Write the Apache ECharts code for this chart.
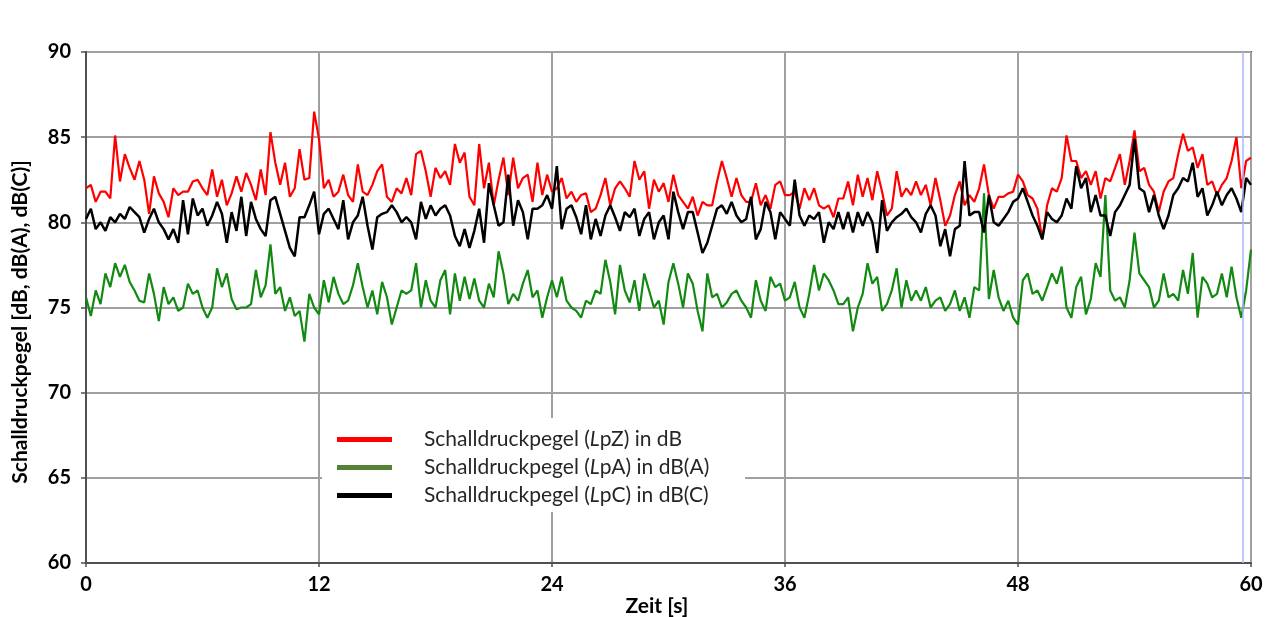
<!DOCTYPE html>
<html>
<head>
<meta charset="utf-8">
<title>Schalldruckpegel</title>
<script src="https://cdn.jsdelivr.net/npm/echarts@6/dist/echarts.min.js"></script>
<style>
  html, body { margin: 0; padding: 0; background: #ffffff; }
  #chart { width: 1272px; height: 617px; }
</style>
</head>
<body>
<div id="chart"></div>
<script>
// Sampling interval of the level recordings, in seconds
const TIME_STEP_S = 0.25;

// Cursor position marked in the recording (s)
const CURSOR_T = 59.6;

// Schalldruckpegel LpZ in dB (unweighted)
const lpZ = [
  82.0, 82.2, 81.2, 81.8, 81.8, 81.4, 85.1, 82.4, 84.0, 83.2,
  82.5, 83.6, 82.5, 80.5, 82.7, 81.7, 81.2, 80.3, 82.0, 81.6,
  81.8, 81.8, 82.4, 82.5, 82.0, 81.6, 83.1, 81.5, 82.5, 81.0,
  81.7, 82.7, 81.8, 82.9, 82.2, 81.3, 83.1, 81.6, 85.3, 83.5,
  82.2, 83.5, 81.5, 82.0, 84.3, 82.5, 82.6, 86.5, 84.9, 82.0,
  82.5, 81.5, 81.8, 82.8, 81.6, 81.2, 83.4, 81.8, 81.6, 82.2,
  83.0, 83.4, 81.5, 81.2, 82.0, 81.7, 82.6, 81.6, 84.0, 84.2,
  83.0, 81.5, 83.2, 82.6, 83.0, 82.2, 84.6, 83.5, 84.1, 81.5,
  81.0, 84.6, 82.0, 83.5, 81.0, 82.5, 83.8, 81.6, 83.8, 82.0,
  82.6, 82.8, 81.2, 83.5, 81.6, 82.8, 81.8, 82.0, 82.6, 81.4,
  81.8, 81.2, 81.6, 81.7, 80.6, 80.8, 81.6, 82.6, 81.0, 82.0,
  82.4, 82.0, 81.5, 83.6, 82.5, 83.0, 80.8, 82.5, 81.8, 82.3,
  81.2, 82.8, 81.6, 81.2, 80.8, 81.5, 80.4, 81.2, 81.0, 81.0,
  82.4, 83.6, 82.6, 81.5, 82.6, 81.6, 81.2, 81.2, 82.3, 81.0,
  81.6, 80.8, 82.2, 82.4, 81.6, 81.6, 81.8, 80.8, 82.0, 81.3,
  82.0, 81.0, 80.8, 81.0, 80.3, 81.4, 81.4, 82.4, 81.0, 82.8,
  81.5, 82.6, 81.3, 83.0, 81.8, 80.4, 80.8, 83.0, 81.5, 82.0,
  81.6, 82.4, 81.6, 82.2, 81.0, 82.6, 81.3, 79.8, 80.4, 81.6,
  82.4, 81.0, 81.6, 81.2, 82.0, 83.4, 81.6, 80.8, 81.5, 81.5,
  81.7, 81.8, 82.8, 82.4, 81.6, 81.4, 80.8, 79.0, 81.0, 82.0,
  81.8, 82.6, 85.1, 83.6, 83.6, 82.6, 83.0, 82.2, 83.0, 81.4,
  82.6, 82.4, 83.2, 84.0, 82.2, 83.6, 85.4, 83.0, 83.2, 82.2,
  81.8, 80.6, 81.8, 82.4, 82.6, 84.0, 85.2, 84.2, 84.4, 83.2,
  84.0, 82.2, 82.4, 81.6, 82.2, 82.6, 83.6, 85.0, 82.0, 83.6,
  83.8
];

// Schalldruckpegel LpA in dB(A)
const lpA = [
  75.6, 74.5, 76.0, 75.2, 77.0, 76.2, 77.6, 76.8, 77.5, 76.5,
  76.0, 75.4, 75.3, 77.0, 75.8, 74.2, 76.2, 75.2, 75.6, 74.8,
  75.0, 76.4, 75.8, 76.0, 75.0, 74.4, 75.0, 77.3, 76.2, 77.0,
  75.5, 74.9, 75.0, 75.0, 75.2, 77.2, 75.6, 76.3, 78.7, 75.8,
  76.2, 74.8, 75.6, 74.5, 74.8, 73.0, 75.8, 75.0, 74.6, 76.6,
  75.3, 76.8, 75.8, 75.2, 75.4, 76.3, 77.6, 76.2, 75.0, 76.0,
  74.6, 76.5, 75.6, 74.0, 75.0, 76.0, 75.8, 76.0, 77.6, 75.0,
  76.6, 75.4, 75.0, 76.6, 77.2, 74.6, 77.0, 75.4, 76.8, 75.5,
  76.7, 75.4, 75.0, 76.4, 75.6, 78.3, 77.0, 75.2, 75.8, 75.4,
  76.4, 77.2, 75.6, 76.0, 74.4, 75.6, 76.6, 75.6, 76.8, 75.4,
  75.0, 74.8, 74.4, 75.4, 75.2, 76.0, 75.8, 77.8, 76.5, 74.6,
  77.5, 76.0, 75.3, 76.6, 74.8, 77.0, 76.0, 75.0, 75.4, 74.0,
  76.5, 77.6, 76.4, 75.0, 77.0, 76.4, 74.8, 73.6, 77.0, 75.6,
  75.8, 75.0, 75.3, 75.8, 76.0, 75.4, 75.0, 74.4, 76.6, 75.4,
  74.8, 76.8, 76.2, 76.4, 75.4, 75.6, 76.5, 75.0, 74.4, 75.8,
  77.5, 76.0, 77.0, 76.6, 76.0, 75.2, 75.2, 75.6, 73.6, 75.0,
  75.8, 77.6, 76.4, 76.8, 74.8, 75.2, 76.0, 77.3, 75.0, 76.6,
  75.4, 76.0, 75.4, 76.2, 75.0, 75.4, 75.6, 74.8, 75.2, 76.0,
  74.8, 75.6, 74.4, 76.2, 76.0, 81.7, 75.5, 77.2, 75.6, 74.8,
  75.4, 74.4, 74.0, 76.6, 77.0, 75.8, 76.0, 75.4, 76.2, 77.0,
  76.4, 77.4, 75.0, 74.4, 76.2, 76.8, 74.6, 75.5, 77.6, 76.8,
  81.6, 76.0, 75.4, 75.6, 75.0, 76.6, 79.4, 77.0, 76.6, 76.2,
  75.0, 75.4, 77.0, 75.6, 75.8, 75.4, 77.2, 75.8, 78.2, 74.4,
  76.8, 76.4, 75.6, 75.8, 77.0, 75.6, 77.4, 75.6, 74.4, 76.0,
  78.4
];

// Schalldruckpegel LpC in dB(C)
const lpC = [
  80.2, 80.8, 79.6, 80.0, 79.5, 80.3, 80.0, 80.5, 80.2, 80.9,
  80.6, 80.3, 79.4, 80.2, 80.8, 80.0, 79.6, 79.0, 79.6, 78.8,
  81.3, 79.3, 81.4, 80.4, 80.8, 79.8, 80.4, 81.2, 80.5, 78.8,
  80.6, 79.5, 81.5, 79.2, 81.2, 80.2, 79.6, 79.2, 81.3, 81.5,
  80.5, 79.5, 78.5, 78.0, 80.3, 80.3, 81.0, 81.8, 79.3, 80.5,
  80.8, 80.2, 79.6, 81.3, 79.0, 80.0, 80.4, 81.5, 79.8, 78.4,
  80.3, 80.5, 80.6, 81.0, 80.6, 80.0, 80.3, 80.0, 79.0, 81.2,
  80.2, 81.0, 80.4, 80.8, 81.0, 80.4, 79.2, 78.6, 79.6, 78.5,
  79.5, 80.8, 78.8, 82.3, 81.0, 79.8, 80.0, 82.8, 79.8, 81.3,
  80.6, 79.0, 80.8, 80.8, 81.0, 81.6, 80.8, 83.3, 79.6, 80.8,
  81.0, 80.3, 79.3, 81.0, 79.0, 80.2, 79.2, 80.4, 81.0, 80.3,
  79.5, 80.6, 80.3, 80.8, 79.2, 80.2, 80.6, 79.0, 80.0, 80.4,
  79.0, 81.8, 80.6, 79.6, 80.6, 80.6, 79.4, 78.2, 78.8, 79.8,
  80.8, 81.0, 80.5, 81.2, 80.4, 80.0, 80.2, 81.5, 79.0, 79.6,
  81.2, 80.6, 79.0, 80.6, 80.2, 79.8, 82.5, 80.4, 79.8, 80.4,
  80.2, 80.6, 78.8, 80.0, 79.6, 80.6, 79.6, 80.6, 79.4, 80.6,
  79.8, 80.6, 80.0, 78.2, 81.3, 79.5, 80.0, 80.3, 80.5, 80.8,
  80.3, 80.0, 79.4, 80.5, 81.0, 80.4, 78.6, 79.6, 78.0, 79.6,
  79.8, 83.6, 80.4, 80.6, 80.6, 79.4, 81.6, 80.0, 79.8, 80.2,
  80.6, 81.2, 81.4, 82.0, 81.2, 80.4, 79.8, 79.0, 80.6, 80.2,
  80.0, 80.4, 81.4, 80.8, 83.3, 82.0, 82.6, 80.6, 81.6, 80.4,
  80.4, 79.2, 80.6, 81.0, 81.6, 82.2, 84.9, 82.0, 81.8, 80.6,
  81.6, 80.4, 79.6, 80.4, 81.6, 82.0, 82.6, 82.4, 83.5, 81.5,
  82.0, 80.4, 81.0, 81.8, 81.0, 81.6, 82.0, 81.4, 80.6, 82.6,
  82.2
];

const seriesNames = [
  'Schalldruckpegel (LpZ) in dB',
  'Schalldruckpegel (LpA) in dB(A)',
  'Schalldruckpegel (LpC) in dB(C)'
];
const lineColors = ['#ff0000', '#128a12', '#000000'];
const legendColors = ['#ff0000', '#548235', '#000000'];

const yAxisTitle = 'Schalldruckpegel [dB, dB(A), dB(C)]';
const xAxisTitle = 'Zeit [s]';

const FONT = 'Lato, "Open Sans", "Liberation Sans", sans-serif';

function toPairs(values) {
  return values.map((v, i) => [i * TIME_STEP_S, v]);
}

// Put the "L" of the level symbol in italics
function legendLabel(name) {
  const k = name.indexOf('(L');
  return '{n|' + name.slice(0, k + 1) + '}{i|L}{n|' + name.slice(k + 2) + '}';
}

const chart = echarts.init(document.getElementById('chart'), null, { renderer: 'canvas' });

chart.setOption({
  animation: false,
  backgroundColor: '#ffffff',
  grid: {
    left: 86, right: 21, top: 52, bottom: 54,
    containLabel: false,
    outerBoundsMode: 'none',
    show: true, borderColor: '#505050', borderWidth: 2, backgroundColor: 'transparent'
  },
  xAxis: {
    type: 'value', min: 0, max: 60, interval: 12,
    axisLine: { show: true, onZero: false, lineStyle: { color: '#505050', width: 2 } },
    axisTick: { show: true, length: 4, lineStyle: { color: '#505050', width: 1.5 } },
    axisLabel: { fontFamily: FONT, fontWeight: 'bold', fontSize: 20, color: '#000', margin: 12 },
    splitLine: { show: true, lineStyle: { color: '#a0a0a0', width: 2 } }
  },
  yAxis: {
    type: 'value', min: 60, max: 90, interval: 5,
    axisLine: { show: true, lineStyle: { color: '#505050', width: 2 } },
    axisTick: { show: true, length: 5, lineStyle: { color: '#505050', width: 1.5 } },
    axisLabel: { fontFamily: FONT, fontWeight: 'bold', fontSize: 20, color: '#000', margin: 15 },
    splitLine: { show: true, lineStyle: { color: '#a0a0a0', width: 2 } }
  },
  legend: {
    orient: 'vertical',
    left: 337, top: 429,
    padding: 0,
    itemWidth: 55, itemHeight: 5, itemGap: 7,
    icon: 'rect',
    selectedMode: false,
    z: 5,
    data: seriesNames.map((n, i) => ({ name: n, itemStyle: { color: legendColors[i] } })),
    formatter: legendLabel,
    textStyle: {
      fontFamily: FONT, fontSize: 21, color: '#262626',
      padding: [0, 0, 0, 27],
      rich: {
        n: { fontFamily: FONT, fontSize: 21, color: '#262626' },
        i: { fontFamily: FONT, fontSize: 21, fontStyle: 'italic', color: '#262626' }
      }
    }
  },
  graphic: {
    elements: [
      {
        type: 'rect', z: 3, silent: true,
        shape: { x: 322, y: 418, width: 423, height: 94 },
        style: { fill: '#ffffff' }
      },
      {
        // y-axis title, reading bottom to top
        type: 'text', z: 3, silent: true,
        x: 20, y: 322, rotation: Math.PI / 2,
        style: {
          text: yAxisTitle, fill: '#000',
          font: 'bold 21px ' + FONT,
          align: 'center', verticalAlign: 'middle'
        }
      },
      {
        // x-axis title
        type: 'text', z: 3, silent: true,
        x: 657, y: 606,
        style: {
          text: xAxisTitle, fill: '#000',
          font: 'bold 21px ' + FONT,
          align: 'center', verticalAlign: 'middle'
        }
      }
    ]
  },
  series: [
    {
      name: seriesNames[0], type: 'line', data: toPairs(lpZ),
      showSymbol: false, symbol: 'none',
      lineStyle: { color: lineColors[0], width: 2.2 },
      itemStyle: { color: lineColors[0] }
    },
    {
      name: seriesNames[1], type: 'line', data: toPairs(lpA),
      showSymbol: false, symbol: 'none',
      lineStyle: { color: lineColors[1], width: 2.2 },
      itemStyle: { color: lineColors[1] }
    },
    {
      name: seriesNames[2], type: 'line', data: toPairs(lpC),
      showSymbol: false, symbol: 'none',
      lineStyle: { color: lineColors[2], width: 2.5 },
      itemStyle: { color: lineColors[2] },
      markLine: {
        silent: true, symbol: 'none', animation: false,
        label: { show: false },
        lineStyle: { color: '#aab6ff', width: 1.5, type: 'solid' },
        data: [{ xAxis: CURSOR_T }]
      }
    }
  ]
});
</script>
</body>
</html>
